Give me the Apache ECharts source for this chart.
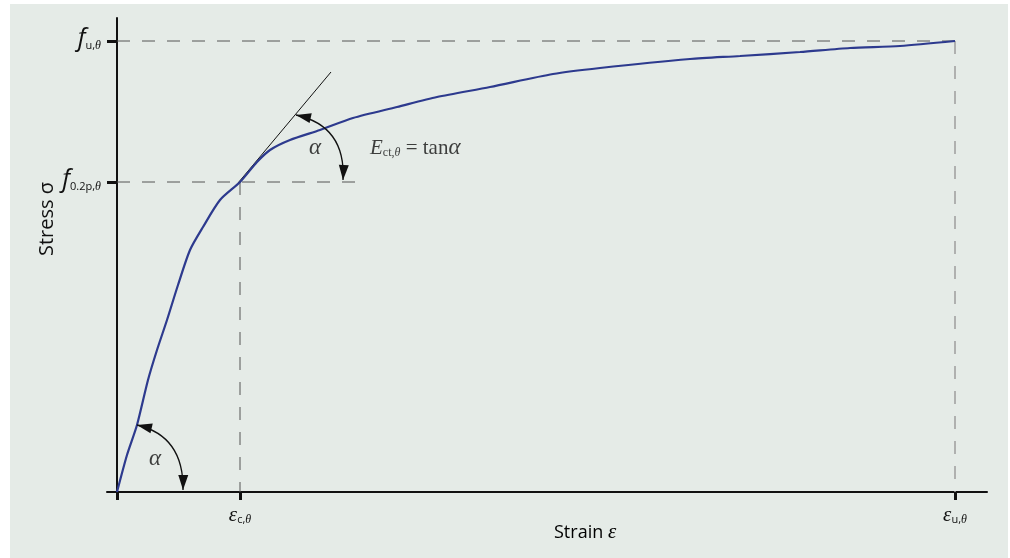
<!DOCTYPE html>
<html><head><meta charset="utf-8">
<script src="https://cdn.jsdelivr.net/npm/echarts@6/dist/echarts.min.js"></script>
<style>
html,body{margin:0;padding:0;background:#fff;}
#panel{position:absolute;left:10px;top:4px;width:998px;height:554px;background:#e5ebe7;}
#chart{position:absolute;left:0;top:0;width:1010px;height:558px;}
</style></head><body><div id="panel"></div><div id="chart"></div>
<script>
// Stress-strain curve (arbitrary units)
const strain = [0, 1.0, 2.0, 3.1, 4.0, 5.0, 6.1, 7.3, 8.6, 10.3, 12.3, 14.0, 15.3, 17.3, 20.3, 23.6, 28.0, 32.0, 37.3, 43.6, 48.3, 57.3, 62.3, 68.3, 73.3, 78.3, 83.8];
const stress = [0, 3.7, 6.7, 11.2, 14.2, 17.2, 20.7, 24.2, 26.5, 29.2, 31.0, 33.0, 34.2, 35.2, 36.2, 37.4, 38.5, 39.5, 40.5, 41.8, 42.4, 43.3, 43.6, 44.0, 44.4, 44.6, 45.1];
const epsC = 12.3, epsU = 83.8;          // strain tick values
const f02 = 31.0, fU = 45.1;             // stress tick values
const f02DashEnd = 23.8;                 // end of f0.2p dashed guide
const tangentX = [12.1, 21.4];
const tangentY = [30.9, 42.0];
// curved angle arrows: [x0,y0, ctrlX,ctrlY, x2,y2]
const arrows = [[2.0, 6.7, 6.7, 5.6, 6.6, 0.2], [17.9, 37.7, 22.9, 36.6, 22.6, 31.2]];
const alphaLabels = [[3.8, 3.3], [19.8, 34.4]];
const eqLabel = [25.3, 34.4];
const xTickLabels = ['{e|ε}{s|c,}{t|θ}', '{e|ε}{s|u,}{t|θ}'];
const yTickLabels = ['{f|f}{s|0.2p,}{t|θ}', '{f|f}{s|u,}{t|θ}'];

const chart = echarts.init(document.getElementById('chart'), null, {renderer: 'canvas'});
const near = (a, b) => Math.abs(a - b) < 1e-6;

function renderArrow(params, api) {
  const p0 = api.coord([api.value(0), api.value(1)]);
  const c = api.coord([api.value(2), api.value(3)]);
  const p2 = api.coord([api.value(4), api.value(5)]);
  function head(tip, from) {
    const dx = tip[0] - from[0], dy = tip[1] - from[1];
    const len = Math.hypot(dx, dy);
    const ux = dx / len, uy = dy / len, L = 15, W = 5;
    const bx = tip[0] - ux * L, by = tip[1] - uy * L;
    return {type: 'polygon', shape: {points: [tip, [bx - uy * W, by + ux * W], [bx + uy * W, by - ux * W]]}, style: {fill: '#111'}};
  }
  return {type: 'group', children: [
    {type: 'bezierCurve', shape: {x1: p0[0], y1: p0[1], x2: p2[0], y2: p2[1], cpx1: c[0], cpy1: c[1]}, style: {stroke: '#111', lineWidth: 1.3, fill: 'none'}},
    head(p0, c), head(p2, c)
  ]};
}

const dashDark = {color: '#555', width: 1, type: [13, 12]};
const dashLight = {color: '#9c9c9c', width: 1.5, type: [13, 12]};
const subSans = {fontFamily: 'Open Sans', fontSize: 11, color: '#111', padding: [9, 0, 0, 0]};
const subTheta = {fontFamily: 'Liberation Serif', fontStyle: 'italic', fontSize: 12, color: '#111', padding: [9, 0, 0, 0]};

chart.setOption({
  animation: false,
  backgroundColor: 'transparent',
  grid: {left: 107, top: 18, width: 880, height: 474, containLabel: false},
  xAxis: {
    type: 'value', min: -1, max: 87,
    axisLine: {lineStyle: {color: '#111', width: 2}},
    axisTick: {show: true, customValues: [0, epsC, epsU], length: 8, lineStyle: {color: '#111', width: 3}},
    axisLabel: {
      customValues: [epsC, epsU], margin: 13,
      formatter: v => near(v, epsC) ? xTickLabels[0] : xTickLabels[1],
      rich: {
        e: {fontFamily: 'Liberation Serif', fontStyle: 'italic', fontSize: 21, color: '#111'},
        s: subSans, t: subTheta
      }
    },
    splitLine: {show: false}
  },
  yAxis: {
    type: 'value', min: 0, max: 47.4,
    axisLine: {lineStyle: {color: '#111', width: 2}},
    axisTick: {show: true, customValues: [f02, fU], length: 10, lineStyle: {color: '#111', width: 3}},
    axisLabel: {
      customValues: [f02, fU], margin: 6,
      formatter: v => near(v, f02) ? yTickLabels[0] : yTickLabels[1],
      rich: {
        f: {fontFamily: 'Open Sans', fontStyle: 'italic', fontSize: 25, color: '#111', padding: [0, 0, 4, 0]},
        s: subSans, t: subTheta
      }
    },
    splitLine: {show: false}
  },
  graphic: [
    {type: 'text', left: 37, top: 182, rotation: Math.PI / 2, style: {text: 'Stress σ', font: '20px "Open Sans"', fill: '#111'}},
    {type: 'text', left: 554, top: 522, style: {rich: {a: {fontFamily: 'Open Sans', fontSize: 18, color: '#111'}, b: {fontFamily: 'Liberation Serif', fontStyle: 'italic', fontSize: 21, color: '#111'}}, text: '{a|Strain }{b|ε}'}}
  ],
  series: [
    {type: 'line', data: [[0, fU], [epsU, fU]], symbol: 'none', lineStyle: dashDark, silent: true},
    {type: 'line', data: [[epsU, fU], [epsU, 0]], symbol: 'none', lineStyle: dashLight, silent: true},
    {type: 'line', data: [[0, f02], [f02DashEnd, f02]], symbol: 'none', lineStyle: dashDark, silent: true},
    {type: 'line', data: [[epsC, f02], [epsC, 0]], symbol: 'none', lineStyle: dashDark, silent: true},
    {type: 'line', data: tangentX.map((x, i) => [x, tangentY[i]]), symbol: 'none', lineStyle: {color: '#111', width: 1}, silent: true},
    {type: 'line', data: strain.map((x, i) => [x, stress[i]]), symbol: 'none', smooth: 0.25, lineStyle: {color: '#2d3a8e', width: 2.2}, z: 5},
    {type: 'custom', renderItem: renderArrow, data: arrows, encode: {x: 0, y: 1}, z: 6, silent: true},
    {type: 'scatter', symbolSize: 0, silent: true, z: 7,
      data: [
        {value: alphaLabels[0], label: {show: true, position: 'inside', formatter: '{a|α}'}},
        {value: alphaLabels[1], label: {show: true, position: 'inside', formatter: '{a|α}'}},
        {value: eqLabel, label: {show: true, position: 'right', distance: 0, formatter: '{E|E}{s|ct,}{t|θ}{r| = tan}{a|α}'}}
      ],
      label: {rich: {
        a: {fontFamily: 'Liberation Serif', fontStyle: 'italic', fontSize: 23, color: '#111'},
        E: {fontFamily: 'Liberation Serif', fontStyle: 'italic', fontSize: 21, color: '#111'},
        s: {fontFamily: 'Liberation Serif', fontSize: 12, color: '#111', padding: [9, 0, 0, 0]},
        t: {fontFamily: 'Liberation Serif', fontStyle: 'italic', fontSize: 12, color: '#111', padding: [9, 0, 0, 0]},
        r: {fontFamily: 'Liberation Serif', fontSize: 21, color: '#111'}
      }}
    }
  ]
});
</script></body></html>
